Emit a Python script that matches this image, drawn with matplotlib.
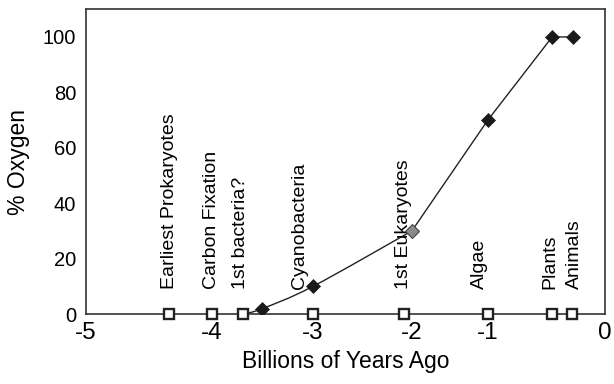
import numpy as np
import matplotlib
matplotlib.use("Agg")
import matplotlib.pyplot as plt
from matplotlib.path import Path
from matplotlib.patches import PathPatch

plt.rcParams['font.family'] = ['Liberation Sans', 'DejaVu Sans']

# events along the time axis (billions of years ago)
events = ["Earliest Prokaryotes", "Carbon Fixation", "1st bacteria?", "Cyanobacteria",
          "1st Eukaryotes", "Algae", "Plants", "Animals"]
event_x = [-4.34, -4.0, -3.69, -3.0, -2.08, -1.0, -0.45, -0.28]

# oxygen level (% of present)
oxy_x = [-3.5, -3.0, -2.0, -1.0, -0.45, -0.27]
oxy_y = [2, 10, 30, 70, 100, 100]
curve_start = (-3.69, 0)

# the x axis of the original figure is not evenly spaced
tick_vals = [-5, -4, -3, -2, -1, 0]
tick_frac = [0.0, 0.2428, 0.4374, 0.6281, 0.7746, 1.0]
YMAX = 110

# small horizontal nudges of the event labels (points)
label_dx = [0.5, 0, -2, -10, -0.5, -6, -2, 1.5]


def fwd(x):
    return np.interp(x, tick_vals, tick_frac)


def inv(y):
    return np.interp(y, tick_frac, tick_vals)


fig = plt.figure(figsize=(6.14, 3.84), dpi=100)
ax = fig.add_axes([0.140, 0.182, 0.845, 0.794])
ax.set_xscale('function', functions=(fwd, inv))
ax.set_xlim(-5, 0)
ax.set_ylim(0, YMAX)

# smooth early part of the curve (catmull-rom -> bezier, in screen proportions)
px = [curve_start[0]] + oxy_x[:3]
py = [curve_start[1]] + oxy_y[:3]
pts = np.column_stack([fwd(np.array(px)) * 519, np.array(py) / YMAX * 305])
verts = [pts[0]]
codes = [Path.MOVETO]
n = len(pts)
for i in range(n - 1):
    p0 = pts[max(i - 1, 0)]
    p1 = pts[i]
    p2 = pts[i + 1]
    p3 = pts[min(i + 2, n - 1)]
    c1 = p1 + (p2 - p0) / 6.0
    c2 = p2 - (p3 - p1) / 6.0
    verts += [c1, c2, p2]
    codes += [Path.CURVE4] * 3
verts = np.array(verts)
verts = np.column_stack([inv(verts[:, 0] / 519), verts[:, 1] / 305 * YMAX])
ax.add_patch(PathPatch(Path(verts, codes), facecolor='none', edgecolor='#222222',
                       lw=1.0, zorder=2))
# later part is nearly straight
ax.plot(oxy_x[2:], oxy_y[2:], color='#222222', lw=1.0, zorder=2)

# event markers on the baseline
ax.plot(event_x, [0] * len(event_x), ls='none', marker='s', ms=7.5, mfc='white',
        mec='#222222', mew=1.7, zorder=4, clip_on=False)

# oxygen markers
for x, y in zip(oxy_x, oxy_y):
    if x == -2.0:
        ax.plot(x, y, marker='D', ms=6.8, mfc='#8a8a8a', mec='#444444', mew=0.8, zorder=5)
    else:
        ax.plot(x, y, marker='D', ms=6.8, mfc='#1a1a1a', mec='#1a1a1a', mew=0.5, zorder=5)

for name, x, dx in zip(events, event_x, label_dx):
    ax.annotate(name, (x, 9), xytext=(dx, 0), textcoords='offset points',
                rotation=90, ha='center', va='bottom', fontsize=14, zorder=3)

ax.set_xticks(tick_vals)
ax.set_xticklabels(['-5', '-4', '-3', '-2', '-1', '0'])
ax.set_yticks([0, 20, 40, 60, 80, 100])
ax.tick_params(axis='x', length=0, pad=6, labelsize=17.5)
ax.tick_params(axis='y', length=0, pad=7, labelsize=14.5)
ax.set_xlabel('Billions of Years Ago', fontsize=16.5, labelpad=4)
ax.set_ylabel('% Oxygen', fontsize=16.5, labelpad=9)
for s in ax.spines.values():
    s.set_color('#333333')
    s.set_linewidth(1.2)

fig.savefig('out.png', dpi=100)
